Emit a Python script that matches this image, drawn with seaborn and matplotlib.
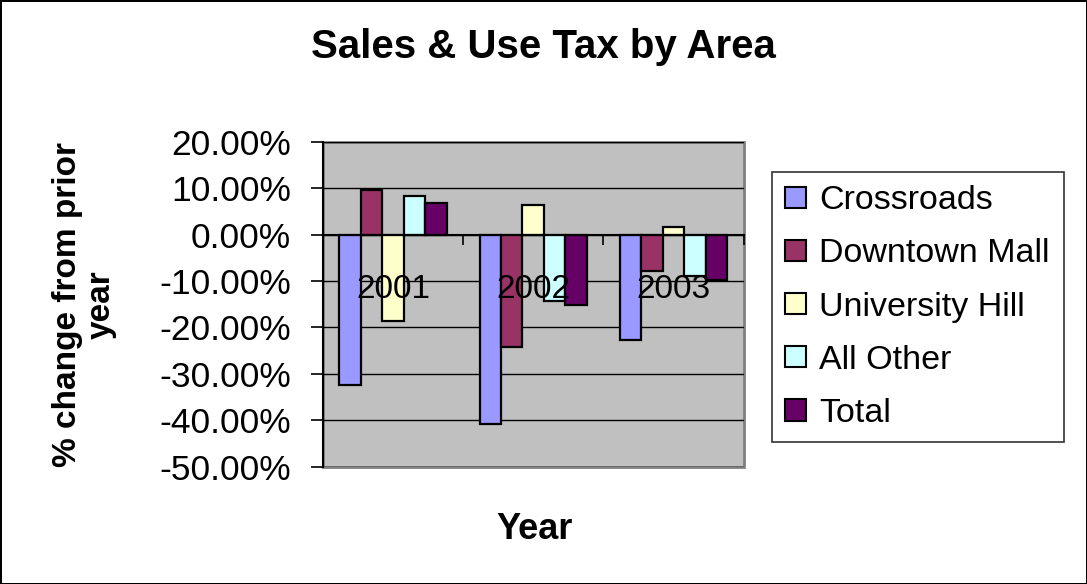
# Sales & Use Tax by Area - grouped bar chart
import pandas as pd
import matplotlib
matplotlib.use("Agg")
import matplotlib.pyplot as plt
import seaborn as sns
from matplotlib.ticker import FuncFormatter, MultipleLocator, FixedLocator

# Data (% change from prior year, as fractions)
years = ["2001", "2002", "2003"]
areas = ["Crossroads", "Downtown Mall", "University Hill", "All Other", "Total"]
crossroads = [-0.324, -0.408, -0.226]
downtown_mall = [0.097, -0.242, -0.078]
university_hill = [-0.187, 0.065, 0.016]
all_other = [0.083, -0.143, -0.090]
total = [0.069, -0.152, -0.098]
colors = ["#9999FF", "#993366", "#FFFFCC", "#CCFFFF", "#660066"]

rows = []
for area, vals in zip(areas, [crossroads, downtown_mall, university_hill, all_other, total]):
    for yr, v in zip(years, vals):
        rows.append({"Year": yr, "Area": area, "Change": v})
data = pd.DataFrame(rows)

sns.set_style("white")
plt.rcParams["font.family"] = ["Liberation Sans", "DejaVu Sans"]
plt.rcParams["axes.unicode_minus"] = False
for k in ["text.color", "axes.labelcolor", "xtick.color", "ytick.color"]:
    plt.rcParams[k] = "black"

fig = plt.figure(figsize=(10.87, 5.84), dpi=100)
fig.patch.set_edgecolor("black")
fig.patch.set_linewidth(2)
ax = fig.add_axes([0.297, 0.201, 0.387, 0.556])

sns.barplot(data=data, x="Year", y="Change", hue="Area", order=years,
            hue_order=areas, palette=colors, saturation=1, width=0.765, gap=0,
            edgecolor="black", linewidth=1.6, ax=ax)

# plot area
ax.set_facecolor("#C0C0C0")
ax.patch.set_edgecolor("#808080")
ax.patch.set_linewidth(2)
ax.set_xlim(-0.5, 2.5)
ax.set_ylim(-0.5, 0.2)
ax.yaxis.set_major_locator(MultipleLocator(0.1))
ax.yaxis.set_major_formatter(FuncFormatter(lambda v, p: f"{v * 100:.2f}%"))
ax.set_axisbelow(True)
ax.yaxis.grid(True, color="black", linewidth=1)
ax.xaxis.grid(False)
ax.xaxis.set_zorder(5)

for s in ["top", "right"]:
    ax.spines[s].set_visible(False)
ax.spines["left"].set_color("black")
ax.spines["left"].set_linewidth(1.5)
ax.spines["bottom"].set_position(("data", 0))
ax.spines["bottom"].set_color("black")
ax.spines["bottom"].set_linewidth(1.5)

ax.tick_params(axis="y", direction="out", length=9, width=1.2, color="black",
               pad=14, labelsize=25.5, left=True)
ax.xaxis.set_minor_locator(FixedLocator([-0.5, 0.5, 1.5, 2.5]))
ax.tick_params(axis="x", which="major", length=0, pad=28, labelsize=24)
ax.tick_params(axis="x", which="minor", direction="out", length=7,
               width=1.2, color="black", bottom=True)

ax.set_xlabel("Year", fontsize=26, fontweight="bold")
ax.xaxis.set_label_coords(0.504, -0.14)
ax.set_ylabel("% change from prior\nyear", fontsize=24, fontweight="bold",
              linespacing=1.1)
ax.yaxis.set_label_coords(-0.49, 0.5)

fig.text(0.5, 0.92, "Sales & Use Tax by Area", fontsize=29,
         fontweight="bold", ha="center", va="center")

# legend
old = ax.get_legend()
handles = old.legend_handles
labels = [t.get_text() for t in old.texts]
for h in handles:
    h.set_edgecolor("black")
    h.set_linewidth(1.5)
leg = ax.legend(handles, labels, loc="upper left",
                bbox_to_anchor=(0.710, 0.706), bbox_transform=fig.transFigure,
                fontsize=24.5, frameon=True, fancybox=False, edgecolor="black",
                handlelength=0.6, handleheight=0.6, handletextpad=0.4,
                labelspacing=0.65, borderpad=0.4, borderaxespad=0)
leg.get_frame().set_linewidth(1.2)

fig.savefig("out.png", dpi=100)
